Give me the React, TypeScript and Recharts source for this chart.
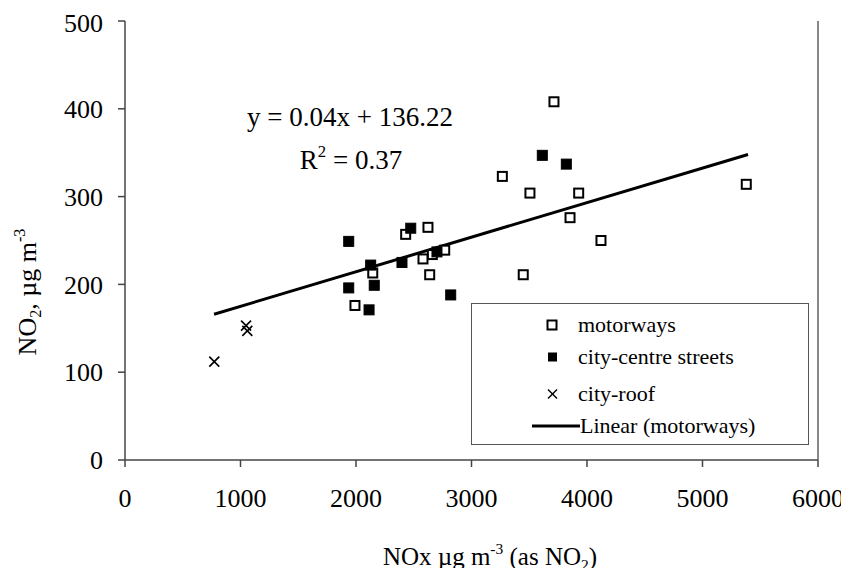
import React from 'react';
import { ScatterChart, Scatter, XAxis, YAxis, ReferenceLine, Legend } from 'recharts';

const xTicks = [0, 1000, 2000, 3000, 4000, 5000, 6000];
const yTicks = [0, 100, 200, 300, 400, 500];

const motorways: [number, number][] = [
  [3714, 408], [3267, 323], [3506, 304], [3928, 304], [5379, 314], [3853, 276],
  [4121, 250], [2623, 265], [2430, 257], [2768, 239], [2661, 234], [2580, 229],
  [2638, 211], [3448, 211], [2145, 213], [1991, 176],
];
const cityCentre: [number, number][] = [
  [3613, 347], [3821, 337], [2474, 264], [1937, 249], [2127, 222], [2398, 225],
  [2701, 237], [1937, 196], [2158, 199], [2820, 188], [2113, 171],
];
const cityRoof: [number, number][] = [[773, 112], [1048, 153], [1059, 147]];
const trendLine: [number, number][] = [[771, 166], [5394, 348]];

const seriesNames = ['motorways', 'city-centre streets', 'city-roof', 'Linear (motorways)'];
const equationText = 'y = 0.04x + 136.22';
const r2Value = '0.37';

const toPts = (a: [number, number][]) => a.map(([x, y]) => ({ x, y }));

const FONT = 'Liberation Serif';

const OpenSquare = (p: any) => (
  <rect x={p.cx - 4.5} y={p.cy - 4.5} width={9} height={9} fill="#fff" stroke="#000" strokeWidth={2} />
);
const FilledSquare = (p: any) => (
  <rect x={p.cx - 5} y={p.cy - 5} width={10} height={10} fill="#000" stroke="#000" strokeWidth={1} />
);
const Cross = (p: any) => (
  <g stroke="#000" strokeWidth={1.6}>
    <line x1={p.cx - 5} y1={p.cy - 5} x2={p.cx + 5} y2={p.cy + 5} />
    <line x1={p.cx - 5} y1={p.cy + 5} x2={p.cx + 5} y2={p.cy - 5} />
  </g>
);
const NoShape = () => <g />;

const LegendBox = () => {
  const rowTop = [22, 54, 91, 123];
  const textStyle: React.CSSProperties = {
    position: 'absolute', fontFamily: FONT, fontSize: 22, color: '#000',
    transform: 'translateY(-50%)', whiteSpace: 'nowrap', lineHeight: 1,
  };
  return (
    <div style={{ position: 'relative', width: 338, height: 142, boxSizing: 'border-box', border: '1px solid #555', background: '#fff' }}>
      <svg width={338} height={142} style={{ position: 'absolute', left: -1, top: -1 }}>
        <OpenSquare cx={81} cy={rowTop[0]} />
        <rect x={77} y={rowTop[1] - 4.5} width={9} height={9} fill="#000" />
        <g stroke="#000" strokeWidth={1.4}>
          <line x1={77} y1={rowTop[2] - 4.5} x2={86} y2={rowTop[2] + 4.5} />
          <line x1={77} y1={rowTop[2] + 4.5} x2={86} y2={rowTop[2] - 4.5} />
        </g>
        <line x1={61} y1={rowTop[3]} x2={109} y2={rowTop[3]} stroke="#000" strokeWidth={3} />
      </svg>
      <div style={{ ...textStyle, left: 106, top: rowTop[0] - 1 }}>{seriesNames[0]}</div>
      <div style={{ ...textStyle, left: 106, top: rowTop[1] - 1 }}>{seriesNames[1]}</div>
      <div style={{ ...textStyle, left: 106, top: rowTop[2] - 1 }}>{seriesNames[2]}</div>
      <div style={{ ...textStyle, left: 108, top: rowTop[3] - 1 }}>{seriesNames[3]}</div>
    </div>
  );
};

const supStyle: React.CSSProperties = { fontSize: '0.62em', position: 'relative', top: '-0.7em', verticalAlign: 'baseline', lineHeight: 0 };
const subStyle: React.CSSProperties = { fontSize: '0.62em', position: 'relative', top: '0.3em', verticalAlign: 'baseline', lineHeight: 0 };

export default function App() {
  const tickStyle = { fill: '#000', fontSize: 26, fontFamily: FONT };
  const abs: React.CSSProperties = {
    position: 'absolute', fontFamily: FONT, color: '#000', whiteSpace: 'nowrap',
    transform: 'translate(-50%, -50%)', lineHeight: 1,
  };
  return (
    <div style={{ position: 'relative', width: 841, height: 560, fontFamily: FONT }}>
      <ScatterChart width={841} height={560} margin={{ top: 13, right: 31, left: 57, bottom: 48 }} style={{ fontFamily: FONT }}>
        <XAxis
          type="number" dataKey="x" domain={[0, 6000]} ticks={xTicks} height={60}
          tickSize={7} tickMargin={22} tick={tickStyle}
          axisLine={{ stroke: '#444', strokeWidth: 1.5 }} tickLine={{ stroke: '#444', strokeWidth: 1.5 }}
          allowDataOverflow
        />
        <YAxis
          type="number" dataKey="y" domain={[0, 500]} ticks={yTicks} width={60}
          tickSize={7} tickMargin={15} tick={tickStyle}
          axisLine={{ stroke: '#444', strokeWidth: 1.5 }} tickLine={{ stroke: '#444', strokeWidth: 1.5 }}
          allowDataOverflow
        />
        <ReferenceLine x={6000} stroke="#888" strokeWidth={2} ifOverflow="visible" />
        <Scatter name={seriesNames[3]} data={toPts(trendLine)} line={{ stroke: '#000', strokeWidth: 3 }} shape={NoShape} isAnimationActive={false} legendType="none" />
        <Scatter name={seriesNames[0]} data={toPts(motorways)} shape={OpenSquare} isAnimationActive={false} />
        <Scatter name={seriesNames[1]} data={toPts(cityCentre)} shape={FilledSquare} isAnimationActive={false} />
        <Scatter name={seriesNames[2]} data={toPts(cityRoof)} shape={Cross} isAnimationActive={false} />
        <Legend
          layout="vertical" align="center" verticalAlign="middle"
          wrapperStyle={{ position: 'absolute', left: 463, top: 295, width: 338, height: 142 }}
          content={() => <LegendBox />}
        />
      </ScatterChart>
      <div style={{ ...abs, left: 342, top: 109, fontSize: 27 }}>{equationText}</div>
      <div style={{ ...abs, left: 343, top: 152, fontSize: 27 }}>
        R<span style={supStyle}>2</span> = {r2Value}
      </div>
      <div style={{ ...abs, left: 20, top: 284, fontSize: 26, transform: 'translate(-50%, -50%) rotate(-90deg)' }}>
        NO<span style={subStyle}>2</span>, µg m<span style={supStyle}>-3</span>
      </div>
      <div style={{ ...abs, left: 482, top: 548, fontSize: 25 }}>
        NOx µg m<span style={supStyle}>-3</span> (as NO<span style={subStyle}>2</span>)
      </div>
    </div>
  );
}
